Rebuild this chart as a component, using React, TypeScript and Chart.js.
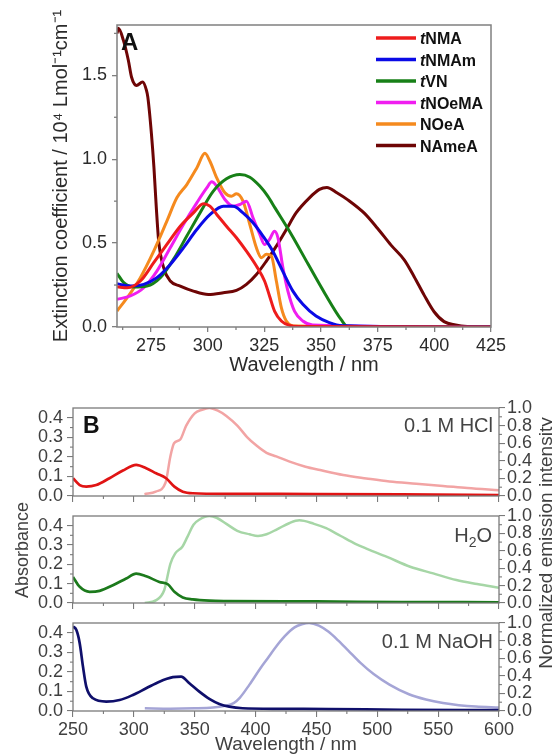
import React, { useEffect, useRef } from 'react';
import { Chart, registerables } from 'chart.js';
Chart.register(...registerables);

const W = 552;
const FONT = "'Liberation Sans', Arial, Helvetica, sans-serif";

// ---------- Panel A : extinction coefficients ----------
const tNMA_x = [260, 264.5, 270.3, 276.2, 282, 287.9, 293.7, 298.1, 301, 304, 308.3, 312.7, 317.1, 321.5, 325.1, 327.3, 329.5, 332.5, 336.1, 340, 425];
const tNMA_y = [0.24, 0.234, 0.274, 0.383, 0.492, 0.601, 0.68, 0.735, 0.72, 0.671, 0.601, 0.532, 0.452, 0.363, 0.274, 0.185, 0.095, 0.036, 0.01, 0.003, 0];

const tNMAm_x = [260, 265.9, 271.8, 277.6, 283.5, 289.3, 295.2, 301.1, 306.9, 311.3, 315.6, 320, 324.4, 328.8, 333.2, 337.6, 342, 347.8, 353.7, 359.5, 425];
const tNMAm_y = [0.258, 0.244, 0.254, 0.294, 0.373, 0.472, 0.581, 0.671, 0.72, 0.72, 0.68, 0.621, 0.542, 0.45, 0.33, 0.214, 0.135, 0.065, 0.026, 0.008, 0];

const tVN_x = [260, 263, 267.4, 273.2, 279.1, 284.9, 290.8, 296.6, 302.5, 308.3, 314.2, 318.6, 323, 326.5, 329.7, 337, 344.3, 351.7, 359, 361.5, 425];
const tVN_y = [0.32, 0.264, 0.238, 0.244, 0.294, 0.403, 0.542, 0.68, 0.81, 0.883, 0.909, 0.893, 0.84, 0.78, 0.71, 0.55, 0.375, 0.2, 0.042, 0.005, 0];

const tNOeMA_x = [260, 265.9, 271.8, 277.6, 283.5, 289.3, 295.2, 299.6, 301.8, 304, 307.6, 311.3, 314.2, 317.1, 320, 323, 325.1, 327.3, 329.5, 331, 333.2, 335.4, 338.3, 342, 346.3, 425];
const tNOeMA_y = [0.165, 0.185, 0.234, 0.333, 0.472, 0.611, 0.74, 0.829, 0.865, 0.839, 0.76, 0.72, 0.73, 0.75, 0.651, 0.552, 0.492, 0.522, 0.571, 0.532, 0.353, 0.214, 0.095, 0.036, 0.012, 0];

const NOeA_x = [260, 264.5, 270.3, 276.2, 282, 286.4, 290.8, 295.2, 298.8, 301, 304, 307.6, 310.5, 312.7, 315.6, 318.6, 321.5, 323.7, 325.9, 328.1, 330.3, 332.5, 334.7, 339, 425];
const NOeA_y = [0.095, 0.175, 0.294, 0.452, 0.631, 0.77, 0.849, 0.948, 1.035, 0.988, 0.889, 0.8, 0.78, 0.794, 0.75, 0.611, 0.472, 0.413, 0.433, 0.423, 0.274, 0.115, 0.036, 0.006, 0];

const NAmeA_x = [260, 260.6, 262.8, 265, 266.4, 268.6, 271.3, 273, 273.6, 275.2, 276.3, 277.3, 278.4, 280.6, 283.5, 287.9, 293.7, 300.3, 306.9, 312.7, 317.1, 321.5, 325.9, 330.3, 334.7, 339, 344.9, 349.3, 352.6, 357, 362, 369.2, 375, 380.9, 386.8, 391.1, 395.5, 399.9, 404.3, 409.4, 414.5, 425];
const NAmeA_y = [1.75, 1.78, 1.71, 1.59, 1.49, 1.44, 1.46, 1.41, 1.37, 1.15, 0.95, 0.72, 0.51, 0.353, 0.274, 0.244, 0.214, 0.194, 0.204, 0.218, 0.254, 0.313, 0.393, 0.482, 0.581, 0.68, 0.77, 0.82, 0.832, 0.8, 0.756, 0.677, 0.587, 0.488, 0.399, 0.3, 0.19, 0.091, 0.032, 0.012, 0.003, 0];

const labelsA = ['tNMA', 'tNMAm', 'tVN', 'tNOeMA', 'NOeA', 'NAmeA'];
const italicPrefixA = [true, true, true, true, false, false];
const colorsA = ['#ee1c1c', '#0a0ae6', '#178017', '#f01ef0', '#f58a1e', '#6e0505'];
const xsA = [tNMA_x, tNMAm_x, tVN_x, tNOeMA_x, NOeA_x, NAmeA_x];
const ysA = [tNMA_y, tNMAm_y, tVN_y, tNOeMA_y, NOeA_y, NAmeA_y];

const xMajorA = [275, 300, 325, 350, 375, 400, 425];
const xMinorA = [262.5, 287.5, 312.5, 337.5, 362.5, 387.5, 412.5];
const yMajorA = [0, 0.5, 1.0, 1.5];
const yMinorA = [0.25, 0.75, 1.25, 1.75];

// ---------- Panel B : absorbance + emission ----------
const HCl_abs_x = [250, 255.5, 260.9, 269.1, 280, 291, 301.9, 310.1, 318.3, 326.5, 333.3, 340.2, 348.4, 380, 450, 520, 600];
const HCl_abs_y = [0.091, 0.056, 0.048, 0.056, 0.091, 0.13, 0.159, 0.142, 0.116, 0.091, 0.048, 0.022, 0.014, 0.011, 0.01, 0.008, 0.005];
const HCl_em_x = [308.7, 318, 326, 330, 333, 338, 343, 350, 356, 362, 369, 376, 385, 393, 401, 409, 417, 428, 441, 453, 472, 491, 510, 532, 554, 574, 600];
const HCl_em_y = [0.02, 0.05, 0.15, 0.45, 0.6, 0.64, 0.8, 0.94, 0.98, 1.0, 0.97, 0.91, 0.8, 0.67, 0.57, 0.49, 0.45, 0.39, 0.333, 0.295, 0.239, 0.2, 0.165, 0.14, 0.115, 0.09, 0.065];

const H2O_abs_x = [250, 255.5, 263.7, 271.9, 282.8, 293.7, 301.9, 310.1, 321, 327.9, 333.3, 340.2, 348.4, 362, 375.7, 450, 520, 600];
const H2O_abs_y = [0.135, 0.084, 0.058, 0.063, 0.092, 0.127, 0.152, 0.138, 0.109, 0.097, 0.058, 0.029, 0.019, 0.012, 0.01, 0.008, 0.005, 0.004];
const H2O_em_x = [309, 318, 325, 330, 334, 340, 344, 349, 354, 362, 368, 376, 385, 395, 402, 409, 418, 428, 436, 448, 458, 470, 482, 492, 508, 527, 546, 565, 582, 600];
const H2O_em_y = [0, 0.03, 0.15, 0.45, 0.57, 0.65, 0.76, 0.9, 0.96, 1.0, 0.98, 0.91, 0.83, 0.79, 0.77, 0.79, 0.85, 0.92, 0.95, 0.91, 0.86, 0.77, 0.68, 0.62, 0.53, 0.417, 0.34, 0.264, 0.218, 0.175];

const NaOH_abs_x = [250, 252.7, 255.5, 258.2, 260.9, 266.4, 277.3, 288.3, 299.2, 310.1, 321, 332, 338.8, 345.6, 353.8, 362, 370.2, 378.4, 389.3, 420, 460, 520, 600];
const NaOH_abs_y = [0.432, 0.415, 0.347, 0.227, 0.125, 0.065, 0.048, 0.056, 0.082, 0.116, 0.15, 0.173, 0.176, 0.142, 0.099, 0.062, 0.036, 0.022, 0.014, 0.011, 0.01, 0.006, 0.004];
const NaOH_em_x = [309, 330, 350, 365, 375, 382, 387, 395, 403.7, 410, 416.8, 424, 432, 438, 444, 452, 460, 468, 476, 486, 497, 510, 526, 540, 554, 567, 581, 600];
const NaOH_em_y = [0.03, 0.025, 0.03, 0.04, 0.06, 0.09, 0.15, 0.3, 0.48, 0.6, 0.73, 0.85, 0.95, 0.985, 1.0, 0.97, 0.9, 0.8, 0.69, 0.55, 0.42, 0.3, 0.19, 0.13, 0.09, 0.066, 0.05, 0.04];

const xMajorB = [250, 300, 350, 400, 450, 500, 550, 600];
const xMinorB = [275, 325, 375, 425, 475, 525, 575];
const yMajorB = [0, 0.1, 0.2, 0.3, 0.4];
const yMinorB = [0.05, 0.15, 0.25, 0.35];
const y2MajorB = [0, 0.2, 0.4, 0.6, 0.8, 1.0];
const y2MinorB = [0.1, 0.3, 0.5, 0.7, 0.9];

const conditionsB = ['0.1 M HCl', 'H2O', '0.1 M NaOH'];
const absColorsB = ['#e01414', '#1c7a1c', '#0f0f6b'];
const emColorsB = ['#f2a4a4', '#a6d6a6', '#a5a5d6'];
const absXB = [HCl_abs_x, H2O_abs_x, NaOH_abs_x];
const absYB = [HCl_abs_y, H2O_abs_y, NaOH_abs_y];
const emXB = [HCl_em_x, H2O_em_x, NaOH_em_x];
const emYB = [HCl_em_y, H2O_em_y, NaOH_em_y];

// ---------- plugins ----------
const framePlugin = {
  id: 'frame',
  afterDatasetsDraw(chart: any, _a: any, opts: any) {
    const { ctx, chartArea: a } = chart;
    ctx.save();
    ctx.strokeStyle = opts.color;
    ctx.lineWidth = opts.width;
    ctx.strokeRect(a.left, a.top, a.right - a.left, a.bottom - a.top);
    const minor = opts.minor || {};
    ctx.lineWidth = opts.tickWidth;
    for (const id of Object.keys(minor)) {
      const s = chart.scales[id];
      if (!s) continue;
      for (const v of minor[id]) {
        const p = s.getPixelForValue(v);
        ctx.beginPath();
        if (s.isHorizontal()) {
          ctx.moveTo(p, a.bottom);
          ctx.lineTo(p, a.bottom + opts.minorLen);
        } else if (s.position === 'left') {
          ctx.moveTo(a.left, p);
          ctx.lineTo(a.left - opts.minorLen, p);
        } else {
          ctx.moveTo(a.right, p);
          ctx.lineTo(a.right + opts.minorLen, p);
        }
        ctx.stroke();
      }
    }
    ctx.restore();
  },
};

type Part = { text: string; font: string; dy?: number };
type TextItem = { parts: Part[]; x: number; y: number; color: string; align?: 'left' | 'right' | 'center'; rot?: number };
type LineItem = { x1: number; x2: number; y: number; color: string; width: number };

const textPlugin = {
  id: 'texts',
  afterDraw(chart: any, _a: any, opts: any) {
    const ctx = chart.ctx as CanvasRenderingContext2D;
    for (const l of (opts.lines || []) as LineItem[]) {
      ctx.save();
      ctx.strokeStyle = l.color;
      ctx.lineWidth = l.width;
      ctx.beginPath();
      ctx.moveTo(l.x1, l.y);
      ctx.lineTo(l.x2, l.y);
      ctx.stroke();
      ctx.restore();
    }
    for (const t of (opts.items || []) as TextItem[]) {
      ctx.save();
      ctx.translate(t.x, t.y);
      if (t.rot) ctx.rotate(t.rot);
      ctx.fillStyle = t.color;
      ctx.textAlign = 'left';
      ctx.textBaseline = 'alphabetic';
      let total = 0;
      for (const p of t.parts) {
        ctx.font = p.font;
        total += ctx.measureText(p.text).width;
      }
      let x = t.align === 'right' ? -total : t.align === 'center' ? -total / 2 : 0;
      for (const p of t.parts) {
        ctx.font = p.font;
        ctx.fillText(p.text, x, p.dy || 0);
        x += ctx.measureText(p.text).width;
      }
      ctx.restore();
    }
  },
};

function mkTicks(values: number[]) {
  return (s: any) => {
    s.ticks = values.map((v) => ({ value: v }));
  };
}

// ---------- Panel A config ----------
const HA = 385;
function configA(): any {
  const area = { left: 117, top: 25, right: 491, bottom: 327 };
  const legendLines: LineItem[] = labelsA.map((_, i) => ({ x1: 376, x2: 416, y: 38 + i * 21.5, color: colorsA[i], width: 3.5 }));
  const legendTexts: TextItem[] = labelsA.map((lab, i) => ({
    parts: italicPrefixA[i]
      ? [
          { text: lab.slice(0, 1), font: `italic bold 16px ${FONT}` },
          { text: lab.slice(1), font: `bold 16px ${FONT}` },
        ]
      : [{ text: lab, font: `bold 16px ${FONT}` }],
    x: 420,
    y: 38 + i * 21.5 + 6,
    color: '#111',
  }));
  return {
    type: 'line',
    data: {
      datasets: labelsA.map((lab, i) => ({
        label: lab,
        data: xsA[i].map((x, j) => ({ x, y: ysA[i][j] })),
        borderColor: colorsA[i],
        borderWidth: 3,
        pointRadius: 0,
        fill: false,
        cubicInterpolationMode: 'monotone',
      })),
    },
    options: {
      responsive: false,
      animation: false,
      devicePixelRatio: 1,
      layout: { autoPadding: false, padding: { left: 0, top: area.top, right: W - area.right, bottom: 0 } },
      plugins: {
        legend: { display: false },
        tooltip: { enabled: false },
        frame: { color: '#808080', width: 1.5, tickWidth: 1.3, minorLen: 3, minor: { x: xMinorA, y: yMinorA } },
        texts: {
          lines: legendLines,
          items: [
            ...legendTexts,
            { parts: [{ text: 'A', font: `bold 24px ${FONT}` }], x: 121, y: 50, color: '#111' },
          ],
        },
      },
      scales: {
        x: {
          type: 'linear',
          min: 260,
          max: 425,
          afterBuildTicks: mkTicks(xMajorA),
          afterFit: (s: any) => {
            s.height = HA - area.bottom;
          },
          ticks: { font: { family: FONT, size: 18 }, color: '#2b2b2b', padding: 3, maxRotation: 0, autoSkip: false, callback: (v: any) => String(v) },
          grid: { drawOnChartArea: false, tickLength: 5, color: '#808080', lineWidth: 1.3 },
          border: { display: false },
          title: { display: true, text: 'Wavelength / nm', font: { family: FONT, size: 20 }, color: '#2b2b2b', padding: { top: 0, bottom: 8 } },
        },
        y: {
          type: 'linear',
          min: 0,
          max: 1.8,
          afterBuildTicks: mkTicks(yMajorA),
          afterFit: (s: any) => {
            s.width = area.left;
          },
          ticks: { font: { family: FONT, size: 18 }, color: '#2b2b2b', padding: 5, autoSkip: false, callback: (v: any) => Number(v).toFixed(1) },
          grid: { drawOnChartArea: false, tickLength: 5, color: '#808080', lineWidth: 1.3 },
          border: { display: false },
          title: {
            display: true,
            text: 'Extinction coefficient / 10\u2074 Lmol\u207B\u00B9cm\u207B\u00B9',
            font: { family: FONT, size: 20 },
            color: '#2b2b2b',
            padding: { top: 49, bottom: 0 },
          },
        },
      },
    },
    plugins: [framePlugin, textPlugin],
  };
}

// ---------- Panel B config ----------
const HB = 366;
const areasB = [
  { top: 18, bottom: 106 },
  { top: 126, bottom: 213 },
  { top: 233, bottom: 321 },
];
function configB(k: number): any {
  const area = { left: 73, right: 499, ...areasB[k] };
  const tickFont = { family: FONT, size: 18 };
  const tc = '#404040';
  const gc = '#7a7a7a';
  const items: TextItem[] = [];
  const labFont = `20px ${FONT}`;
  if (k === 0) {
    items.push({ parts: [{ text: 'B', font: `bold 23px ${FONT}` }], x: 83, y: 43, color: '#111' });
    items.push({ parts: [{ text: conditionsB[0], font: labFont }], x: 493, y: 42, color: '#444', align: 'right' });
  } else if (k === 1) {
    items.push({
      parts: [
        { text: 'H', font: labFont },
        { text: '2', font: `14px ${FONT}`, dy: 5 },
        { text: 'O', font: labFont },
      ],
      x: 492,
      y: 152,
      color: '#444',
      align: 'right',
    });
    items.push({ parts: [{ text: 'Absorbance', font: `18px ${FONT}` }], x: 28, y: 160, color: '#404040', align: 'center', rot: -Math.PI / 2 });
    items.push({ parts: [{ text: 'Normalized emission intensity', font: `19px ${FONT}` }], x: 552, y: 153, color: '#404040', align: 'center', rot: -Math.PI / 2 });
  } else {
    items.push({ parts: [{ text: conditionsB[2], font: labFont }], x: 493, y: 258, color: '#444', align: 'right' });
  }
  return {
    type: 'line',
    data: {
      datasets: [
        {
          label: 'Absorbance ' + conditionsB[k],
          data: absXB[k].map((x, j) => ({ x, y: absYB[k][j] })),
          borderColor: absColorsB[k],
          borderWidth: 2.7,
          pointRadius: 0,
          fill: false,
          cubicInterpolationMode: 'monotone',
          yAxisID: 'y',
        },
        {
          label: 'Emission ' + conditionsB[k],
          data: emXB[k].map((x, j) => ({ x, y: emYB[k][j] })),
          borderColor: emColorsB[k],
          borderWidth: 2.5,
          pointRadius: 0,
          fill: false,
          cubicInterpolationMode: 'monotone',
          yAxisID: 'y2',
        },
      ],
    },
    options: {
      responsive: false,
      animation: false,
      devicePixelRatio: 1,
      layout: { autoPadding: false, padding: { left: 0, top: area.top, right: 0, bottom: 0 } },
      plugins: {
        legend: { display: false },
        tooltip: { enabled: false },
        frame: { color: gc, width: 1.3, tickWidth: 1.1, minorLen: 3, minor: { x: xMinorB, y: yMinorB, y2: y2MinorB } },
        texts: { items },
      },
      scales: {
        x: {
          type: 'linear',
          min: 250,
          max: 600,
          afterBuildTicks: mkTicks(xMajorB),
          afterFit: (s: any) => {
            s.height = HB - area.bottom;
          },
          ticks: { font: tickFont, color: tc, padding: 2, maxRotation: 0, autoSkip: false, callback: (v: any) => (k === 2 ? String(v) : '') },
          grid: { drawOnChartArea: false, tickLength: 6, color: gc, lineWidth: 1.1 },
          border: { display: false },
          title: { display: k === 2, text: 'Wavelength / nm', font: { family: FONT, size: 19 }, color: tc, padding: { top: 0, bottom: 0 } },
        },
        y: {
          type: 'linear',
          position: 'left',
          min: 0,
          max: 0.45,
          afterBuildTicks: mkTicks(yMajorB),
          afterFit: (s: any) => {
            s.width = area.left;
          },
          ticks: { font: tickFont, color: tc, padding: 4, autoSkip: false, callback: (v: any) => Number(v).toFixed(1) },
          grid: { drawOnChartArea: false, tickLength: 6, color: gc, lineWidth: 1.1 },
          border: { display: false },
        },
        y2: {
          type: 'linear',
          position: 'right',
          min: 0,
          max: 1,
          afterBuildTicks: mkTicks(y2MajorB),
          afterFit: (s: any) => {
            s.width = W - area.right;
          },
          ticks: { font: tickFont, color: tc, padding: 2, autoSkip: false, callback: (v: any) => Number(v).toFixed(1) },
          grid: { drawOnChartArea: false, tickLength: 6, color: gc, lineWidth: 1.1 },
          border: { display: false },
        },
      },
    },
    plugins: [framePlugin, textPlugin],
  };
}

function ChartCanvas({ top, height, make }: { top: number; height: number; make: () => any }) {
  const ref = useRef<HTMLCanvasElement>(null);
  useEffect(() => {
    const chart = new Chart(ref.current as HTMLCanvasElement, make());
    return () => chart.destroy();
  }, []);
  return (
    <div style={{ position: 'absolute', left: 0, top, width: W, height }}>
      <canvas ref={ref} width={W} height={height} style={{ width: W, height, display: 'block' }} />
    </div>
  );
}

export default function App() {
  return (
    <div style={{ position: 'absolute', left: 0, top: 0, width: W, height: 756, background: '#fff', overflow: 'hidden' }}>
      <ChartCanvas top={0} height={HA} make={configA} />
      <ChartCanvas top={390} height={HB} make={() => configB(0)} />
      <ChartCanvas top={390} height={HB} make={() => configB(1)} />
      <ChartCanvas top={390} height={HB} make={() => configB(2)} />
    </div>
  );
}
